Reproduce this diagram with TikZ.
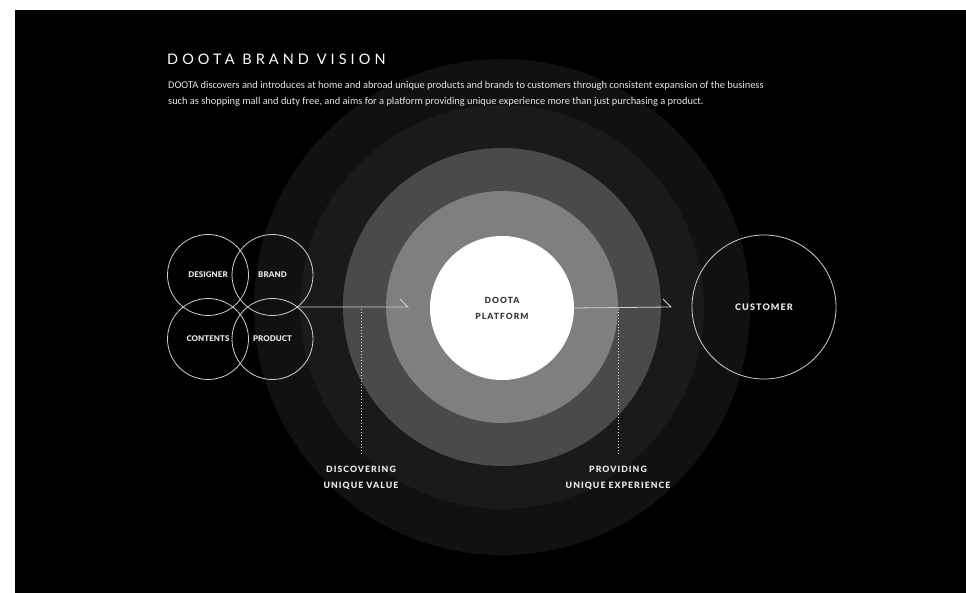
\documentclass[tikz,border=0pt]{standalone}
\usepackage{fontspec}
\setmainfont{Lato}
\newfontfamily\bodyfont{Carlito}
\newfontfamily\titlefont[LetterSpace=28]{Lato}
\newfontfamily\capsfont[LetterSpace=12,BoldFont={Lato Black}]{Lato}
\newfontfamily\vennfont[LetterSpace=1,BoldFont={Lato Black}]{Lato}
\usetikzlibrary{calc}
\definecolor{ringA}{HTML}{111111}
\definecolor{ringB}{HTML}{1A1A1A}
\definecolor{ringC}{HTML}{4A4A4A}
\definecolor{ringD}{HTML}{7F7F7F}
\definecolor{labelc}{HTML}{E6E6E6}
\definecolor{linec}{HTML}{D0D0D0}
\definecolor{platc}{HTML}{3A3A3A}
\begin{document}
\begin{tikzpicture}[x=1pt,y=-1pt,
  ring/.style={circle,inner sep=0pt,minimum size=#1},
  venn/.style={circle,draw=linec,line width=0.8pt,minimum size=81pt,inner sep=0pt,
    text=labelc,font=\vennfont\bfseries\fontsize{7.9}{9}\selectfont},
  flow/.style={draw=linec,line width=0.8pt},
  guide/.style={draw=linec!80,line width=0.9pt,dash pattern=on 1.2pt off 1.8pt},
  caplabel/.style={text=labelc,font=\capsfont\bfseries\fontsize{8.7}{16}\selectfont,align=center}]
\useasboundingbox (0,0) rectangle (966,593);
\fill[white] (0,0) rectangle (966,593);
\fill[black] (15,10) rectangle (966,593);
% concentric rings
\fill[ringA] (502,307) circle (248);
\fill[ringB] (502,307) circle (202);
\fill[ringC] (502,307) circle (159);
\fill[ringD] (502,307) circle (116);
\node[ring=144pt,fill=white,text=platc,align=center,
  font=\capsfont\bfseries\fontsize{8.5}{16}\selectfont] (platform) at (502,308) {DOOTA\\PLATFORM};
% title and text
\node[anchor=base west,inner sep=0pt,text=white,font=\titlefont\fontsize{14.5}{18}\selectfont] (title) at (167,65) {DOOTA BRAND VISION};
\node[anchor=base west,inner sep=0pt,text=labelc,font=\bodyfont\fontsize{10.4}{12}\selectfont] (body1) at (168,89) {DOOTA discovers and introduces at home and abroad unique products and brands to customers through consistent expansion of the business};
\node[anchor=base west,inner sep=0pt,text=labelc,font=\bodyfont\fontsize{10.4}{12}\selectfont] (body2) at (168,105) {such as shopping mall and duty free, and aims for a platform providing unique experience more than just purchasing a product.};
% venn circles
\node[venn] (designer) at (208,275) {DESIGNER};
\node[venn] (brand) at (272.5,275) {BRAND};
\node[venn] (contents) at (208,339) {CONTENTS};
\node[venn] (product) at (272.5,339) {PRODUCT};
% customer
\node[circle,draw=linec,line width=0.8pt,minimum size=144pt,inner sep=0pt,
  text=labelc,font=\capsfont\bfseries\fontsize{9}{10}\selectfont] (customer) at (764,307) {CUSTOMER};
% connectors
\coordinate (start1) at (297,307);
\coordinate (end1) at (408,307);
\coordinate (end2) at (671,307);
\draw[flow] (start1) -- (end1) -- ++(-8,-8);
\draw[flow] (platform.east) -- (end2) -- ++(-8,-8);
% guides
\coordinate (g1top) at (361,309);
\coordinate (g1bot) at (361,456);
\coordinate (g2top) at (618,309);
\coordinate (g2bot) at (618,456);
\draw[guide] (g1top) -- (g1bot);
\draw[guide] (g2top) -- (g2bot);
\node[caplabel] (discover) at (361,478) {DISCOVERING\\UNIQUE VALUE};
\node[caplabel] (provide) at (618,478) {PROVIDING\\UNIQUE EXPERIENCE};
\end{tikzpicture}
\end{document}
